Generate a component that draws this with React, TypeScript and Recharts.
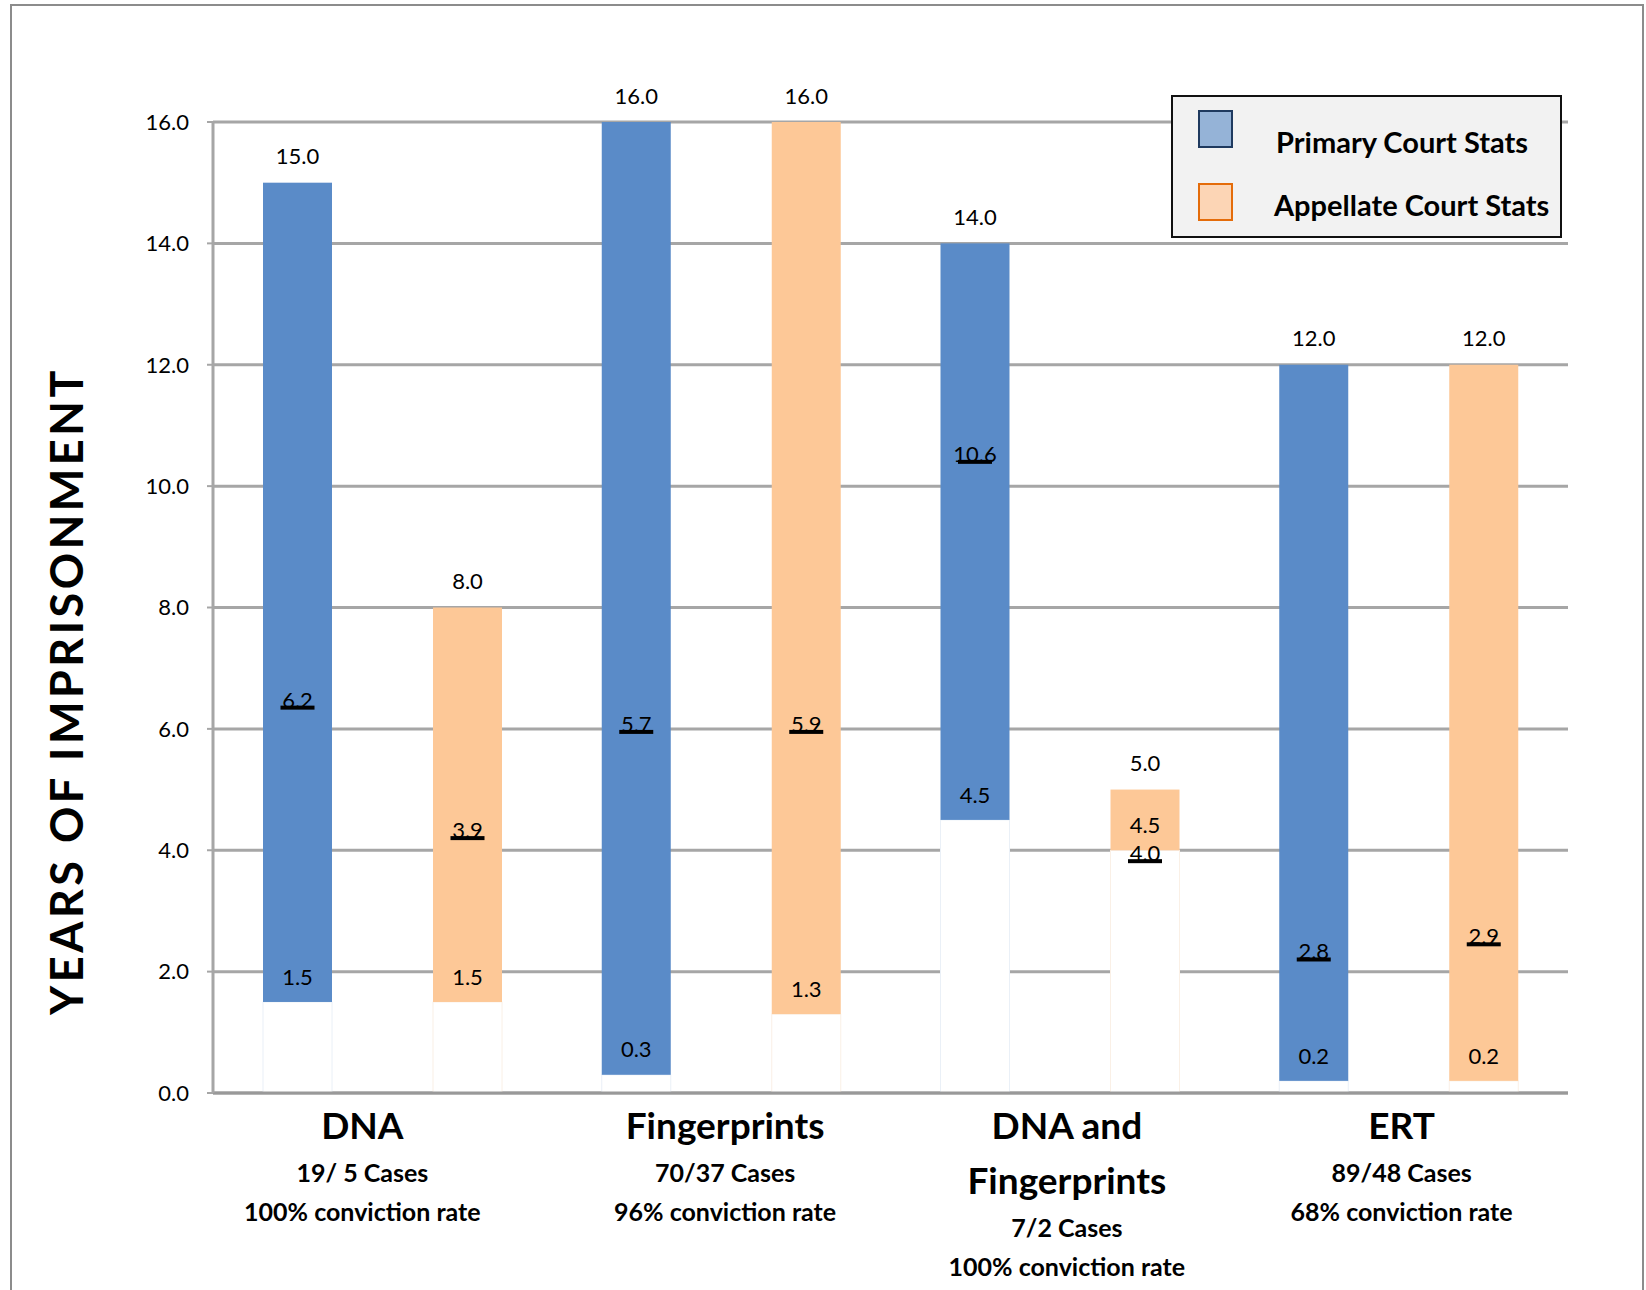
import React from "react";
import { BarChart, Bar, XAxis, YAxis, CartesianGrid, Legend } from "recharts";

// categories and their footnotes under the axis
const categoryTitles = [["DNA"], ["Fingerprints"], ["DNA and", "Fingerprints"], ["ERT"]];
const caseCounts = ["19/ 5 Cases", "70/37 Cases", "7/2 Cases", "89/48 Cases"];
const convictionRates = ["100% conviction rate", "96% conviction rate", "100% conviction rate", "68% conviction rate"];

// primary court: range of sentences, mean label, and where the mean marker sits
const primaryLow = [1.5, 0.3, 4.5, 0.2];
const primaryHigh = [15.0, 16.0, 14.0, 12.0];
const primaryMean = [6.2, 5.7, 10.6, 2.8];
const primaryMarker = [6.35, 5.95, 10.4, 2.2];
const primaryLowLabel = [1.5, 0.3, 4.5, 0.2];

// appellate court
const appellateLow = [1.5, 1.3, 4.0, 0.2];
const appellateHigh = [8.0, 16.0, 5.0, 12.0];
const appellateMean = [3.9, 5.9, 4.0, 2.9];
const appellateMarker = [4.2, 5.95, 3.82, 2.45];
const appellateLowLabel = [1.5, 1.3, 4.5, 0.2];

const yTicks = [0, 2, 4, 6, 8, 10, 12, 14, 16];

const BLUE = "#5A8BC8";
const ORANGE = "#FDC897";
const GRID = "#a6a6a6";
const FONT = "Lato, 'Open Sans', sans-serif";

const data = categoryTitles.map((t, i) => ({
    name: t.join(" "),
    pRange: [primaryLow[i], primaryHigh[i]],
    pLow: primaryLow[i],
    pHigh: primaryHigh[i],
    pMean: primaryMean[i],
    pMarker: primaryMarker[i],
    pLowLabel: primaryLowLabel[i],
    aRange: [appellateLow[i], appellateHigh[i]],
    aLow: appellateLow[i],
    aHigh: appellateHigh[i],
    aMean: appellateMean[i],
    aMarker: appellateMarker[i],
    aLowLabel: appellateLowLabel[i],
}));

const makeShape = (key: "p" | "a", fill: string, ghost: string) => (props: any) => {
    const { x, y, width, height, payload } = props;
    const low = payload[key + "Low"];
    const high = payload[key + "High"];
    const unit = height / (high - low);
    const baseH = low * unit;
    const markerY = y + (high - payload[key + "Marker"]) * unit;
    const cx = x + width / 2;
    const txt = { fontFamily: FONT, fontSize: 22, fill: "#000", textAnchor: "middle" as const };
    return (
        <g>
            {baseH > 0 && <rect x={x} y={y + height} width={width} height={baseH} fill="#ffffff" stroke={ghost} strokeWidth={1} />}
            <rect x={x} y={y} width={width} height={height} fill={fill} />
            <text {...txt} x={cx} y={y - 26} dy="0.35em">{high.toFixed(1)}</text>
            <text {...txt} x={cx} y={y + height - 25} dy="0.35em">{payload[key + "LowLabel"].toFixed(1)}</text>
            <text {...txt} x={cx} y={markerY}>{payload[key + "Mean"].toFixed(1)}</text>
            <rect x={cx - 17} y={markerY - 2} width={34} height={4} fill="#000" />
        </g>
    );
};

const tickShift = [-20, 4, 7, 3];

const CategoryTick = (props: any) => {
    const { x, y, index } = props;
    const titles = categoryTitles[index];
    const cx = x + tickShift[index];
    let cy = y + 31;
    const items: React.ReactNode[] = [];
    titles.forEach((t, k) => {
        if (k > 0) cy += 55;
        items.push(
            <text key={"t" + k} x={cx} y={cy} dy="0.35em" textAnchor="middle" fontFamily={FONT} fontWeight="bold" fontSize={37} fill="#000">
                {t}
            </text>
        );
    });
    cy += 47;
    items.push(
        <text key="c" x={cx} y={cy} dy="0.35em" textAnchor="middle" fontFamily={FONT} fontWeight="bold" fontSize={25} fill="#000">
            {caseCounts[index]}
        </text>
    );
    cy += 39;
    items.push(
        <text key="r" x={cx} y={cy} dy="0.35em" textAnchor="middle" fontFamily={FONT} fontWeight="bold" fontSize={25} fill="#000">
            {convictionRates[index]}
        </text>
    );
    return <g>{items}</g>;
};

const LegendBox = () => (
    <div
        style={{
            width: 391,
            height: 143,
            boxSizing: "border-box",
            background: "#f2f2f2",
            border: "2px solid #111",
            position: "relative",
            fontFamily: FONT,
            fontWeight: "bold",
            fontSize: 29,
            color: "#000",
        }}
    >
        <div style={{ position: "absolute", left: 25, top: 13, width: 35, height: 38, boxSizing: "border-box", background: "#95B3D7", border: "2px solid #1F3A5F" }} />
        <div style={{ position: "absolute", left: 103, top: 27, lineHeight: "36px", whiteSpace: "nowrap" }}>Primary Court Stats</div>
        <div style={{ position: "absolute", left: 25, top: 86, width: 35, height: 38, boxSizing: "border-box", background: "#FCD5B5", border: "2px solid #E46C0A" }} />
        <div style={{ position: "absolute", left: 101, top: 90, lineHeight: "36px", whiteSpace: "nowrap" }}>Appellate Court Stats</div>
    </div>
);

export default function App() {
    return (
        <div style={{ position: "absolute", left: 0, top: 0, width: 1646, height: 1290, background: "#fff", overflow: "hidden" }}>
            <div
                style={{
                    position: "absolute",
                    left: 10,
                    top: 4,
                    width: 1630,
                    height: 1320,
                    borderLeft: "2px solid #8c8c8c",
                    borderTop: "2px solid #8c8c8c",
                    borderRight: "2px solid #8c8c8c",
                }}
            />
            <div style={{ position: "absolute", left: 0, top: 0 }}>
                <BarChart
                    width={1646}
                    height={1290}
                    data={data}
                    margin={{ top: 122, right: 78, left: 153, bottom: 47 }}
                    barSize={69}
                    barGap={101}
                >
                    <CartesianGrid vertical={false} stroke={GRID} strokeWidth={3} />
                    <XAxis
                        dataKey="name"
                        interval={0}
                        height={150}
                        tickSize={0}
                        tickLine={false}
                        axisLine={{ stroke: "#999", strokeWidth: 3 }}
                        tick={<CategoryTick />}
                    />
                    <YAxis
                        domain={[0, 16]}
                        ticks={yTicks}
                        width={60}
                        tickSize={6}
                        tickMargin={18}
                        tickFormatter={(v: number) => v.toFixed(1)}
                        axisLine={{ stroke: GRID, strokeWidth: 3 }}
                        tickLine={{ stroke: GRID, strokeWidth: 2 }}
                        tick={{ fill: "#000", fontSize: 22, fontFamily: FONT }}
                        label={{
                            content: () => (
                                <text
                                    x={67}
                                    y={691}
                                    transform="rotate(-90, 67, 691)"
                                    textAnchor="middle"
                                    dy="0.35em"
                                    fontFamily={FONT}
                                    fontWeight="bold"
                                    fontSize={45}
                                    letterSpacing={3.5}
                                    fill="#000"
                                >
                                    YEARS OF IMPRISONMENT
                                </text>
                            ),
                        }}
                    />
                    <Legend
                        layout="vertical"
                        align="center"
                        verticalAlign="middle"
                        content={<LegendBox />}
                        wrapperStyle={{ position: "absolute", left: 1171, top: 95, width: 391, height: 143 }}
                    />
                    <Bar
                        dataKey="pRange"
                        name="Primary Court Stats"
                        fill={BLUE}
                        isAnimationActive={false}
                        shape={makeShape("p", BLUE, "#eaf0f7")}
                    />
                    <Bar
                        dataKey="aRange"
                        name="Appellate Court Stats"
                        fill={ORANGE}
                        isAnimationActive={false}
                        shape={makeShape("a", ORANGE, "#faf0e6")}
                    />
                </BarChart>
            </div>
        </div>
    );
}
